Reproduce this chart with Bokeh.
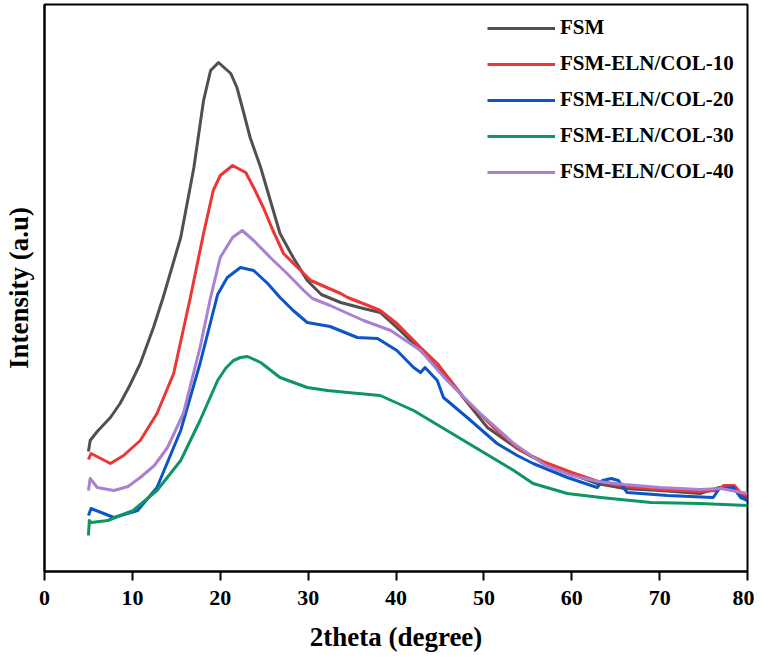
from bokeh.plotting import figure
from bokeh.models import Range1d, FixedTicker, Legend, LegendItem
from bokeh.embed import file_html
from bokeh.resources import INLINE

# ---- data (2theta in degrees, intensity in arbitrary units) ----
fsm_x = [5.0, 5.2, 6.0, 7.5, 8.6, 9.7, 10.9, 12.4, 13.5, 15.5, 17.0, 18.1, 18.9, 19.8,
         21.2, 21.9, 22.6, 23.4, 24.6, 25.7, 26.8, 28.3, 29.9, 31.5, 33.7, 36.3, 38.2,
         40.1, 42.0, 43.9, 47.3, 50.4, 53.8, 55.6, 59.5, 62.9, 66.0, 70.0, 74.6, 76.8,
         78.3, 79.3, 80.0]
fsm_y = [120, 131, 140, 154, 168, 186, 208, 244, 274, 334, 404, 471, 501, 509,
         498, 484, 461, 434, 404, 371, 338, 314, 291, 277, 269, 263, 259,
         244, 228, 211, 178, 144, 123, 114, 99, 88, 83, 81, 78, 84,
         84, 76, 73]

col10_x = [5.0, 5.3, 7.5, 9.0, 10.9, 12.8, 14.7, 16.6, 18.1, 19.2, 20.0, 21.4, 22.9,
           23.8, 24.9, 26.0, 27.2, 28.8, 30.3, 33.7, 34.5, 37.4, 38.2, 40.1, 42.8,
           44.7, 47.7, 51.1, 54.2, 57.0, 60.0, 63.0, 66.0, 70.0, 74.6, 76.5, 77.3,
           78.5, 79.3, 80.0]
col10_y = [112, 118, 108, 116, 131, 158, 198, 274, 338, 381, 396, 406, 399,
           384, 364, 341, 318, 304, 291, 278, 274, 264, 261, 248, 224,
           208, 174, 144, 121, 109, 99, 90, 85, 82, 80, 81, 86,
           86, 78, 76]

col20_x = [5.0, 5.3, 7.9, 10.6, 12.8, 15.5, 17.7, 19.7, 20.8, 22.3, 23.8, 25.4, 26.8,
           28.3, 29.9, 32.5, 35.6, 37.9, 40.1, 42.0, 42.8, 43.3, 44.7, 45.4, 48.1,
           51.5, 53.8, 55.6, 59.5, 62.9, 63.5, 64.5, 65.3, 66.3, 70.9, 76.1, 76.8,
           78.4, 79.2, 80.0]
col20_y = [56, 63, 54, 61, 84, 141, 208, 277, 294, 304, 301, 288, 274,
           261, 249, 245, 234, 233, 221, 204, 199, 204, 191, 174, 154,
           128, 116, 108, 94, 84, 91, 93, 91, 79, 76, 74, 83,
           84, 74, 71]

col30_x = [5.0, 5.1, 5.3, 7.2, 10.1, 12.8, 15.5, 17.7, 19.7, 20.6, 21.5, 22.3, 23.1,
           24.6, 26.8, 29.9, 32.2, 34.5, 38.2, 42.0, 45.8, 49.6, 53.4, 55.6, 59.5,
           63.3, 69.0, 74.6, 80.0]
col30_y = [36, 51, 49, 51, 61, 81, 111, 151, 191, 203, 211, 214, 215,
           209, 194, 184, 181, 179, 176, 161, 141, 121, 101, 88, 78,
           74, 69, 68, 66]

col40_x = [5.0, 5.2, 6.0, 7.9, 9.5, 10.9, 12.5, 14.0, 15.8, 17.7, 18.9, 20.0, 21.4,
           22.5, 23.8, 25.7, 27.6, 29.5, 30.5, 32.5, 36.3, 39.4, 42.8, 45.8, 49.6,
           53.4, 57.0, 60.0, 63.0, 66.0, 70.0, 74.6, 77.0, 80.0]
col40_y = [81, 93, 84, 81, 85, 94, 106, 124, 158, 224, 274, 314, 334,
           341, 331, 314, 298, 281, 273, 266, 251, 241, 221, 191, 158,
           128, 106, 96, 90, 87, 84, 82, 83, 78]

series_names = ["FSM", "FSM-ELN/COL-10", "FSM-ELN/COL-20", "FSM-ELN/COL-30", "FSM-ELN/COL-40"]
x_ticks = [0, 10, 20, 30, 40, 50, 60, 70, 80]

# ---- styles ----
colors = ["#505050", "#ee3535", "#0a55c8", "#0e9560", "#aa80d2"]
FONT = "Liberation Serif"

p = figure(width=754, height=654, output_backend="svg", toolbar_location=None,
           x_range=Range1d(0, 80), y_range=Range1d(0, 567),
           min_border_left=44, min_border_right=7, min_border_top=4, min_border_bottom=83)

p.background_fill_color = "white"
p.border_fill_color = "white"
p.xgrid.visible = False
p.ygrid.visible = False
p.outline_line_color = "black"
p.outline_line_width = 2

data = [(fsm_x, fsm_y), (col10_x, col10_y), (col20_x, col20_y),
        (col30_x, col30_y), (col40_x, col40_y)]
renderers = []
for (xs, ys), c in zip(data, colors):
    r = p.line(xs, ys, line_color=c, line_width=3, line_join="round")
    renderers.append(r)

# x axis
p.xaxis.ticker = FixedTicker(ticks=x_ticks)
p.xaxis.axis_line_width = 2
p.xaxis.axis_line_color = "black"
p.xaxis.major_tick_line_width = 2
p.xaxis.major_tick_line_color = "black"
p.xaxis.major_tick_out = 9
p.xaxis.major_tick_in = 0
p.xaxis.minor_tick_line_color = None
p.xaxis.major_label_text_font = FONT
p.xaxis.major_label_text_font_style = "bold"
p.xaxis.major_label_text_font_size = "22px"
p.xaxis.major_label_text_color = "black"
p.xaxis.major_label_standoff = 10
p.xaxis.axis_label = "2theta (degree)"
p.xaxis.axis_label_text_font = FONT
p.xaxis.axis_label_text_font_style = "bold"
p.xaxis.axis_label_text_font_size = "27px"
p.xaxis.axis_label_text_color = "black"
p.xaxis.axis_label_standoff = 14

# y axis (no ticks)
p.yaxis.ticker = FixedTicker(ticks=[])
p.yaxis.axis_line_width = 2
p.yaxis.axis_line_color = "black"
p.yaxis.major_tick_line_color = None
p.yaxis.minor_tick_line_color = None
p.yaxis.axis_label = "Intensity (a.u)"
p.yaxis.axis_label_text_font = FONT
p.yaxis.axis_label_text_font_style = "bold"
p.yaxis.axis_label_text_font_size = "27px"
p.yaxis.axis_label_text_color = "black"
p.yaxis.axis_label_standoff = 11

legend = Legend(items=[LegendItem(label=n, renderers=[r]) for n, r in zip(series_names, renderers)],
                location=(443, 387), border_line_color=None, background_fill_alpha=0,
                glyph_width=68, glyph_height=20, label_height=20, spacing=11, padding=5,
                label_standoff=5, label_text_font=FONT, label_text_font_style="bold",
                label_text_font_size="21px", label_text_color="black")
p.add_layout(legend, "center")

open("out.html", "w").write(file_html(p, INLINE))
